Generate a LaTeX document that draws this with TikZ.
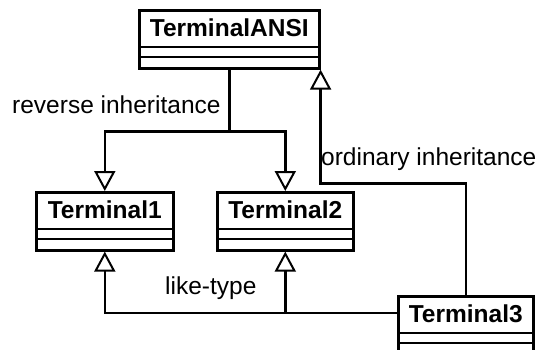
\documentclass[tikz,border=0pt]{standalone}
\usepackage{fontspec}
\setmainfont{Liberation Sans}
\usetikzlibrary{arrows.meta,calc}

% UML class: name, left x, top y, width, class name
\newcommand\umlclass[5]{%
  \node[classbox, minimum width=#4pt, anchor=north west] (#1) at (#2,#3) {};
  \node[classname] (#1-name) at ($(#1.north)+(0,19)$) {#5};
  \draw[boxline] ($(#1.north west)+(0,38)$) -- ($(#1.north east)+(0,38)$);
  \draw[boxline] ($(#1.north west)+(0,48)$) -- ($(#1.north east)+(0,48)$);
}

\begin{document}
\begin{tikzpicture}[x=1pt,y=-1pt,
  boxline/.style={line width=2.6pt},
  classbox/.style={draw, boxline, rectangle, inner sep=0pt, minimum height=58pt},
  classname/.style={font=\fontsize{24.5}{28}\selectfont\bfseries, inner sep=0pt},
  lbl/.style={font=\fontsize{24.5}{28}\selectfont, inner sep=0pt, anchor=base west},
  inh/.style={boxline, -{Triangle[open, length=20pt, width=21pt, line width=2pt]}}]

\fill[white] (0,0) rectangle (539,349);
\useasboundingbox (0,0) rectangle (539,349);

% classes
\umlclass{ansi}{138}{9}{180}{TerminalANSI}
\umlclass{t1}{35}{191}{137}{Terminal1}
\umlclass{t2}{216}{191}{136}{Terminal2}
\umlclass{t3}{397}{295}{135}{Terminal3}

% reverse inheritance
\coordinate (rsplit) at ($(ansi.south)+(0,62)$);
\draw[boxline] (ansi.south) -- (rsplit);
\draw[inh] (rsplit) -| (t1.north);
\draw[inh] (rsplit) -| (t2.north);
\node[lbl] (revlbl) at (12,113) {reverse inheritance};

% like-type
\coordinate (t3w) at ($(t3.north west)+(0,18)$);
\draw[inh] (t3w) -| (t1.south);
\draw[inh] (t2.south |- t3w) -- (t2.south);
\node[lbl] (likelbl) at (165,294) {like-type};

% ordinary inheritance
\coordinate (obend) at ($(ansi.south east)+(0,114)$);
\draw[inh] (t3.north) |- (obend) -- (ansi.south east);
\node[lbl] (ordlbl) at (321,165) {ordinary inheritance};

\end{tikzpicture}
\end{document}
